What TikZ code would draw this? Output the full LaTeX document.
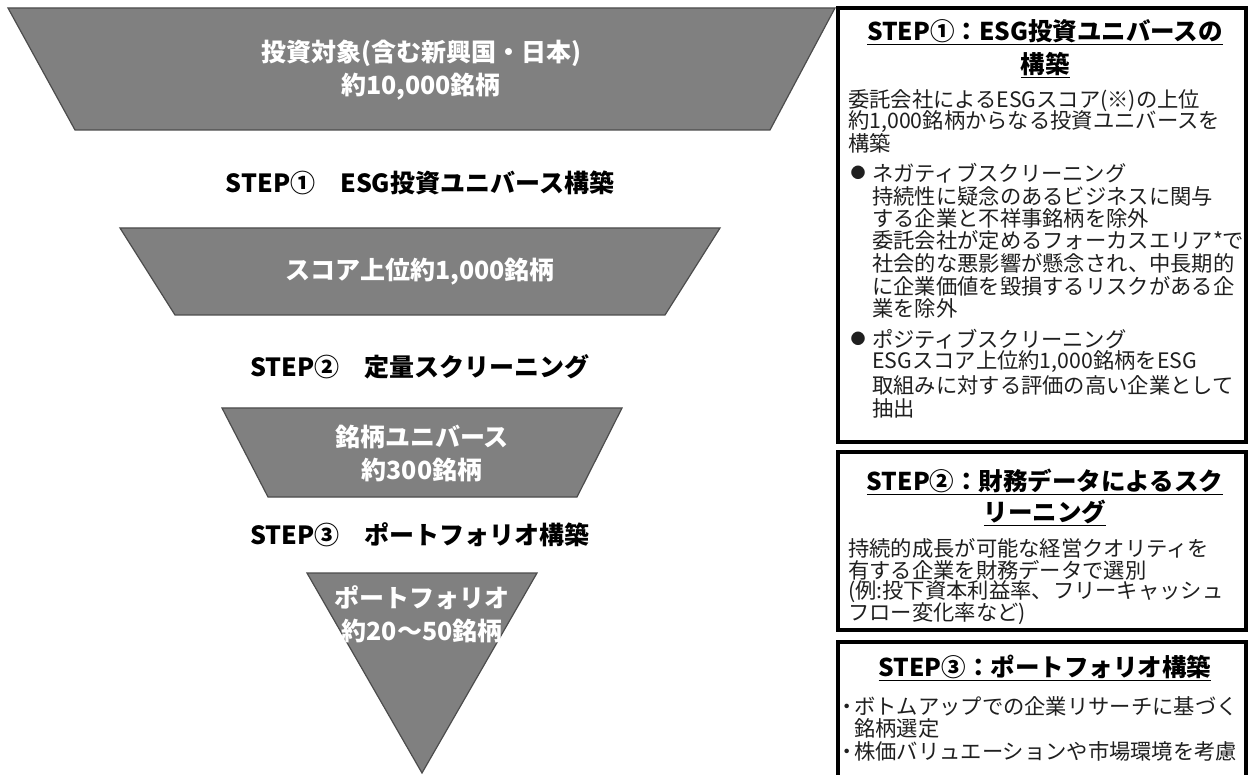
\documentclass[tikz,border=0pt]{standalone}
\usepackage{fontspec}
\setmainfont{Noto Sans CJK JP}
\begin{document}
\begin{tikzpicture}[x=1pt,y=-1pt,
  funnel/.style={fill=black!50, draw=black!70, line width=1.2pt, line join=miter},
  ftext/.style={text=white, font=\bfseries\fontsize{25}{33}\selectfont, align=center, inner sep=0pt},
  steplabel/.style={font=\bfseries\fontsize{25}{28}\selectfont, inner sep=0pt},
  box/.style={draw=black, line width=3.4pt},
  btitle/.style={font=\bfseries\fontsize{24.5}{26}\selectfont, inner sep=0pt},
  body/.style={font=\fontsize{21.3}{22}\selectfont, anchor=west, inner sep=0pt, text=black!88},
  bullet/.style={font=\fontsize{15}{15}\selectfont, inner sep=0pt, text=black!88},
  dot/.style={font=\fontsize{21.3}{22}\selectfont, inner sep=0pt, anchor=base, text=black!88}
]
\useasboundingbox (0,0) rectangle (1253,775);
\clip (0,0) rectangle (1253,775);
\fill[white] (0,0) rectangle (1253,775);

% funnel
\draw[funnel] (8,8) -- (835,8) -- (770,130) -- (75,130) -- cycle;
\node[ftext] (t1) at (421,70) {投資対象(含む新興国・日本)\\約10,000銘柄};
\node[steplabel] (s1) at (420,183) {STEP①\quad ESG投資ユニバース構築};
\draw[funnel] (120,228) -- (720,228) -- (665,315) -- (175,315) -- cycle;
\node[ftext] (t2) at (420,272) {スコア上位約1,000銘柄};
\node[steplabel] (s2) at (420,367) {STEP②\quad 定量スクリーニング};
\draw[funnel] (222,408) -- (622,408) -- (577,497) -- (268,497) -- cycle;
\node[ftext] (t3) at (422,453) {銘柄ユニバース\\約300銘柄};
\node[steplabel] (s3) at (420,535) {STEP③\quad ポートフォリオ構築};
\draw[funnel] (307,573) -- (537,573) -- (422,773) -- cycle;
\node[ftext] (t4) at (422,614) {ポートフォリオ\\約20〜50銘柄};

% box 1
\draw[box] (838,8) rectangle (1246,442);
\node[btitle] (b1a) at (1045,32) {\underline{STEP①：ESG投資ユニバースの}};
\node[btitle] (b1b) at (1045,65) {\underline{構築}};
\node[body] (l1) at (848,101) {委託会社によるESGスコア(※)の上位};
\node[body] (l2) at (848,122) {約1,000銘柄からなる投資ユニバースを};
\node[body] (l3) at (848,143) {構築};
\node[bullet] (bu1) at (858,173) {●};
\node[body] (l4) at (872,173) {ネガティブスクリーニング};
\node[body] (l5) at (872,196) {持続性に疑念のあるビジネスに関与};
\node[body] (l6) at (872,218) {する企業と不祥事銘柄を除外};
\node[body] (l7) at (872,240) {委託会社が定めるフォーカスエリア*で};
\node[body] (l8) at (872,263) {社会的な悪影響が懸念され、中長期的};
\node[body] (l9) at (872,286) {に企業価値を毀損するリスクがある企};
\node[body] (l10) at (872,308) {業を除外};
\node[bullet] (bu2) at (858,339) {●};
\node[body] (l11) at (872,339) {ポジティブスクリーニング};
\node[body] (l12) at (872,362) {ESGスコア上位約1,000銘柄をESG};
\node[body] (l13) at (872,385) {取組みに対する評価の高い企業として};
\node[body] (l14) at (872,408) {抽出};

% box 2
\draw[box] (838,452) rectangle (1246,630);
\node[btitle] (b2a) at (1045,482) {\underline{STEP②：財務データによるスク}};
\node[btitle] (b2b) at (1045,513) {\underline{リーニング}};
\node[body] (m1) at (848,548) {持続的成長が可能な経営クオリティを};
\node[body] (m2) at (848,570) {有する企業を財務データで選別};
\node[body] (m3) at (848,592) {(例:投下資本利益率、フリーキャッシュ};
\node[body] (m4) at (848,614) {フロー変化率など)};

% box 3
\draw[box] (838,642) rectangle (1246,790);
\node[btitle] (b3a) at (1045,668) {\underline{STEP③：ポートフォリオ構築}};
\node[dot] (n0) at (847,714) {\makebox[6pt][c]{・}};
\node[body] (n1) at (854,706) {ボトムアップでの企業リサーチに基づく};
\node[body] (n2) at (854,728) {銘柄選定};
\node[dot] (n3a) at (847,759) {\makebox[6pt][c]{・}};
\node[body] (n3) at (854,751) {株価バリュエーションや市場環境を考慮};
\end{tikzpicture}
\end{document}
